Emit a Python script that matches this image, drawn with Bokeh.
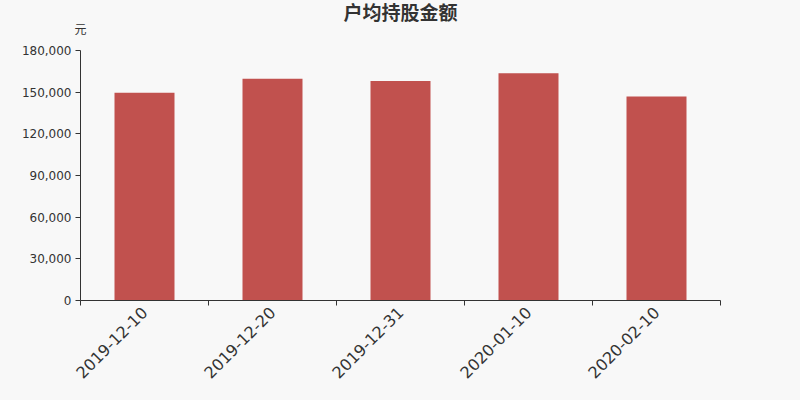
import math
import numpy as np
from bokeh.plotting import figure
from bokeh.models import (FixedTicker, NumeralTickFormatter, Title, Range1d, ColumnDataSource,
                          LinearAxis)
from bokeh.embed import file_html
from bokeh.resources import INLINE

categories = ["2019-12-10", "2019-12-20", "2019-12-31", "2020-01-10", "2020-02-10"]
values = [149500, 159600, 158000, 163700, 146900]
y_ticks = [0, 30000, 60000, 90000, 120000, 150000, 180000]

xs = np.arange(len(categories)) + 0.5
src = ColumnDataSource(dict(x=xs, top=values))

BG = "#f8f8f8"
p = figure(width=800, height=400, output_backend="svg", toolbar_location=None,
           x_range=Range1d(0, len(categories)), y_range=Range1d(0, 180000),
           min_border_left=80, min_border_right=80, min_border_top=50, min_border_bottom=100,
           background_fill_color=BG, border_fill_color=BG)
p.outline_line_color = None
p.xgrid.visible = False
p.ygrid.visible = False

p.vbar(x="x", top="top", width=60/128, source=src, fill_color="#c1514e", line_color=None)

# x axis
xa = p.xaxis[0]
xa.ticker = FixedTicker(ticks=list(xs), minor_ticks=list(range(len(categories) + 1)))
xa.major_label_overrides = {float(x): c for x, c in zip(xs, categories)}
xa.major_tick_line_color = None
xa.minor_tick_line_color = "#333333"
xa.minor_tick_out = 5
xa.minor_tick_in = 0
xa.axis_line_color = "#333333"
xa.major_label_orientation = math.pi / 4
xa.major_label_text_font = "DejaVu Sans"
xa.major_label_text_font_size = "16px"
xa.major_label_text_color = "#333333"
xa.major_label_standoff = 3

# y axis
ya = p.yaxis[0]
ya.ticker = FixedTicker(ticks=y_ticks)
ya.formatter = NumeralTickFormatter(format="0,0")
ya.minor_tick_line_color = None
ya.major_tick_out = 5
ya.major_tick_in = 0
ya.major_tick_line_color = "#333333"
ya.axis_line_color = "#333333"
ya.major_label_text_font = "DejaVu Sans"
ya.major_label_text_font_size = "12px"
ya.major_label_text_color = "#333333"
ya.major_label_standoff = 4

# unit name "元" above the y axis, as an axis with a single labelled tick
unit_axis = LinearAxis(ticker=FixedTicker(ticks=[0]), major_label_overrides={0: "元"},
                       axis_line_color=None, major_tick_line_color=None,
                       minor_tick_line_color=None, major_tick_out=0, major_tick_in=0,
                       major_label_standoff=14, major_label_text_font="Noto Sans CJK SC",
                       major_label_text_font_size="12px", major_label_text_color="#333333")
p.add_layout(unit_axis, "above")

main_title = Title(text="户均持股金额", align="center", vertical_align="middle", standoff=-19.5,
                   text_font="Noto Sans CJK SC", text_font_size="19px", text_font_style="bold",
                   text_color="#333333")
p.add_layout(main_title, "above")

html = file_html(p, INLINE)
html = html.replace("<head>", "<head><style>body{background:#f8f8f8;}</style>", 1)
open("out.html", "w").write(html)
